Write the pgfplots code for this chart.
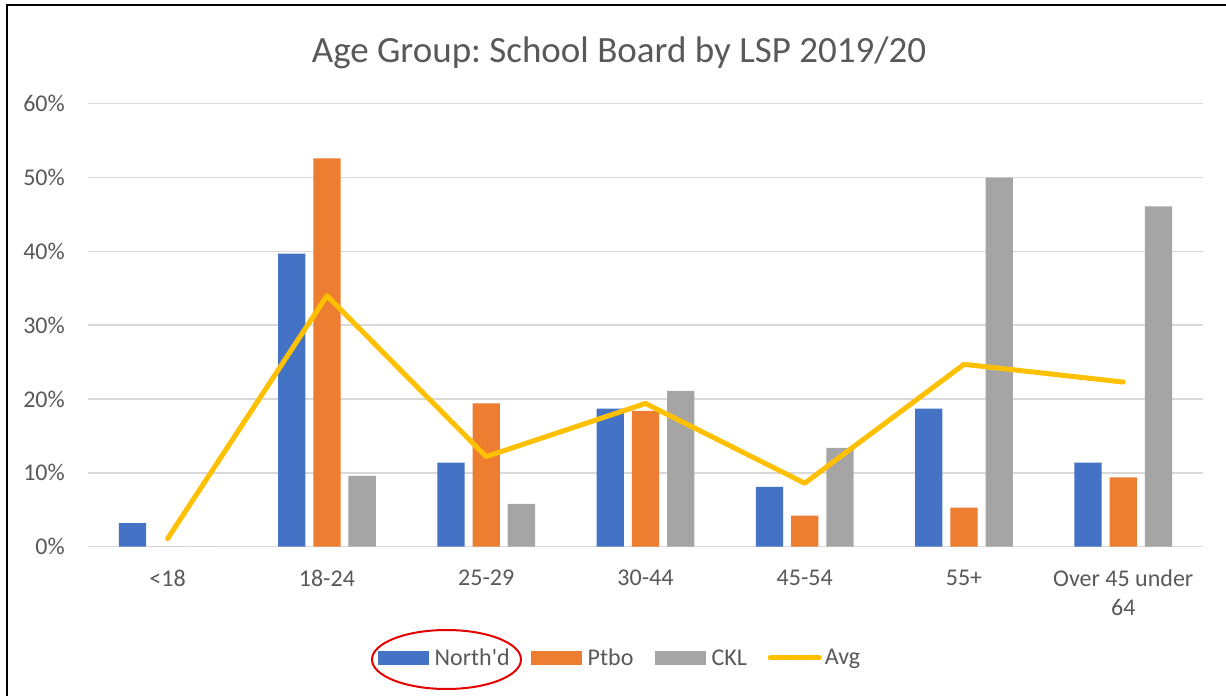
\documentclass[border=0pt]{standalone}
\usepackage{pgfplots}
\pgfplotsset{compat=1.18}
\usepackage{fontspec}
\setmainfont{Carlito}
\newfontfamily\plainfont{Carlito}
\frenchspacing
\definecolor{cblue}{HTML}{4472C4}
\definecolor{corange}{HTML}{ED7D31}
\definecolor{cgray}{HTML}{A5A5A5}
\definecolor{cgold}{HTML}{FFC000}
\definecolor{gridc}{HTML}{D9D9D9}
\definecolor{txt}{HTML}{595959}
\begin{document}
\begin{tikzpicture}
\path[use as bounding box] (0,0) rectangle (1226pt,696pt);
\fill[white] (0,0) rectangle (1226pt,696pt);
\draw[black, line width=2.4pt] (7pt,0) -- (7pt,691pt) -- (1226pt,691pt);
\node[anchor=base, text=txt, font=\fontsize{37}{44}\selectfont] at (619pt,633pt) {Age Group: School Board by LSP 2019/20};
\begin{axis}[
  at={(88pt,149.3pt)}, anchor=south west,
  scale only axis, width=1115pt, height=443pt,
  xmin=-0.5, xmax=6.5, ymin=0, ymax=60,
  axis line style={draw=none},
  major tick length=0pt,
  ytick={0,10,20,30,40,50,60},
  yticklabel={\pgfmathprintnumber{\tick}\%},
  /pgf/number format/assume math mode=true,
  ymajorgrids, major grid style={draw=gridc, line width=1.4pt},
  xtick={0,1,2,3,4,5,6},
  xticklabels={{<18},{18-24},{25-29},{30-44},{45-54},{55+},{Over 45 under\\64}},
  ticklabel style={text=txt, font=\fontsize{24}{29}\selectfont, inner sep=0pt},
  yticklabel style={anchor=east, xshift=-23pt},
  xticklabel style={anchor=north, align=center, yshift=-23pt},
  legend columns=4,
  legend style={at={(0.4775,-0.2512)}, anchor=center, draw=none, fill=none,
    font=\fontsize{24}{29}\selectfont, text=txt,
    /tikz/every even column/.append style={column sep=18pt},
    nodes={inner xsep=3pt, inner ysep=2pt}},
]
\addplot[ybar, bar width=27.3pt, bar shift=-35.2pt, fill=cblue, draw=none,
  legend image code/.code={\path[draw=none,fill=none] (0pt,-7pt) -- (54pt,7pt);\fill[cblue] (0pt,-7pt) rectangle (51pt,7pt);}]
  coordinates {(0,3.2) (1,39.7) (2,11.4) (3,18.7) (4,8.1) (5,18.7) (6,11.4)};
\addlegendentry{\plainfont North'd}
\addplot[ybar, bar width=27.3pt, bar shift=0pt, fill=corange, draw=none,
  legend image code/.code={\path[draw=none,fill=none] (0pt,-7pt) -- (54pt,7pt);\fill[corange] (0pt,-7pt) rectangle (51pt,7pt);}]
  coordinates {(0,0) (1,52.6) (2,19.4) (3,18.4) (4,4.2) (5,5.3) (6,9.4)};
\addlegendentry{Ptbo}
\addplot[ybar, bar width=27.3pt, bar shift=35.2pt, fill=cgray, draw=none,
  legend image code/.code={\path[draw=none,fill=none] (0pt,-7pt) -- (54pt,7pt);\fill[cgray] (0pt,-7pt) rectangle (51pt,7pt);}]
  coordinates {(0,0) (1,9.6) (2,5.8) (3,21.1) (4,13.4) (5,50.0) (6,46.1)};
\addlegendentry{CKL}
\addplot[sharp plot, color=cgold, line width=5pt, line join=round, line cap=round, mark=none,
  legend image code/.code={\path[draw=none,fill=none] (0pt,-7pt) -- (54pt,7pt);\draw[cgold, line width=5pt, line cap=round] (2.5pt,0pt) -- (51.5pt,0pt);}]
  coordinates {(0,1.1) (1,34.0) (2,12.2) (3,19.4) (4,8.6) (5,24.7) (6,22.3)};
\addlegendentry{Avg}
\end{axis}
\draw[red!90!black, line width=2pt] (446.5pt,36.5pt) ellipse [x radius=74.5pt, y radius=29.5pt];
\end{tikzpicture}
\end{document}
